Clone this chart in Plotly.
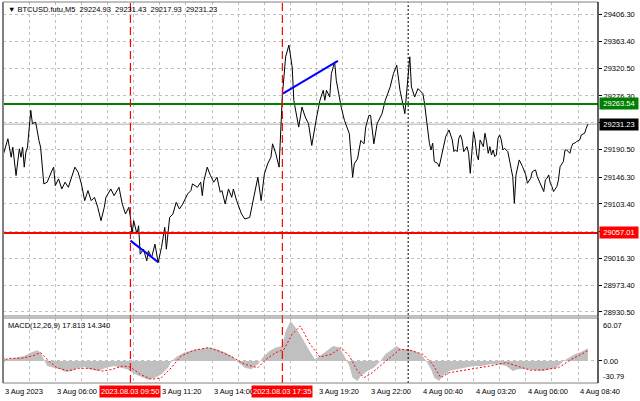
import plotly.graph_objects as go

# ---------------- data ----------------
close_times_3aug = ["03:20","03:35","03:45","03:50","04:00","04:10","04:15","04:20","04:25","04:30","04:35","04:45","04:50","05:00","05:10","05:15","05:25","05:35","05:50","05:55",
    "06:00","06:10","06:20","06:30","06:40","06:50","07:00","07:10","07:20","07:30","07:40","07:50","08:00","08:10","08:20","08:30","08:35","08:50","09:00","09:15",
    "09:25","09:35","09:45","09:50","09:55","10:00","10:10","10:15","10:20","10:30","10:40","10:45","10:55","11:05","11:15","11:25","11:35","11:40","11:50","12:00",
    "12:10","12:20","12:30","12:45","12:55","13:00","13:15","13:25","13:30","13:35","13:45","13:55","14:05","14:15","14:25","14:30","14:40","14:50","15:00","15:05",
    "15:15","15:30","15:40","15:55","16:10","16:20","16:30","16:40","16:50","17:00","17:05","17:15","17:25","17:30","17:35","17:45","17:55","18:05","18:10","18:25",
    "18:35","18:45","18:55","19:05","19:15","19:20","19:30","19:40","19:45","19:50","20:00","20:05","20:15","20:20","20:35","20:45","21:00","21:10","21:15","21:25",
    "21:35","21:45","21:50","22:00","22:05","22:15","22:25","22:40","22:50","23:05","23:15","23:25","23:35","23:50","23:55"]
close_prices_3aug = [29181.0,29207.8,29178.3,29194.4,29148.9,29191.7,29178.3,29194.4,29162.3,29186.3,29194.4,29253.3,29231.9,29234.5,29205.1,29194.4,29135.5,29138.2,29156.9,29162.3,
    29132.8,29143.5,29127.4,29138.2,29130.1,29146.2,29162.3,29154.2,29135.5,29108.7,29124.8,29108.7,29114.0,29098.0,29076.6,29098.0,29114.0,29127.4,29116.7,29130.1,
    29103.3,29087.3,29098.0,29081.9,29055.2,29076.6,29055.2,29068.5,29023.0,29031.0,29012.3,29028.4,29017.7,29039.1,29009.6,29033.7,29065.9,29031.0,29081.9,29087.3,
    29106.0,29095.3,29103.3,29119.4,29124.8,29135.5,29130.1,29138.2,29116.7,29140.8,29162.3,29148.9,29138.2,29146.2,29122.1,29124.8,29103.3,29127.4,29114.0,29127.4,
    29108.7,29087.3,29079.3,29081.9,29119.4,29146.2,29108.7,29151.5,29167.6,29178.3,29199.7,29183.7,29162.3,29210.4,29277.4,29339.0,29357.7,29322.9,29269.4,29226.5,
    29258.6,29242.6,29231.9,29197.1,29231.9,29242.6,29269.4,29285.4,29269.4,29285.4,29274.7,29312.2,29330.9,29301.5,29258.6,29237.2,29215.8,29146.2,29167.6,29175.6,
    29205.1,29199.7,29226.5,29245.3,29245.3,29199.7,29231.9,29247.9,29269.4,29290.8,29312.2,29325.6,29285.4,29247.9,29280.1]
close_times_4aug = ["00:05","00:10","00:20","00:30","00:45",
    "00:50","00:55","01:00","01:05","01:10","01:15","01:20","01:30","01:35","01:40","01:45","01:50","01:55","02:00","02:05",
    "02:15","02:20","02:25","02:30","02:35","02:40","02:45","02:50","03:00","03:05","03:10","03:15","03:20","03:25","03:30","03:35","03:40","03:50",
    "03:55","04:00","04:05","04:10","04:15","04:20","04:25","04:30","04:35","04:40","04:45","04:50","04:55",
    "05:05","05:10","05:15","05:20","05:25","05:30","05:40","05:50",
    "06:00","06:05","06:15","06:20","06:30","06:35","06:45","06:55",
    "07:00","07:05","07:10","07:15","07:20","07:25","07:35","07:40","07:45","07:55",
    "08:00","08:05","08:15","08:20","08:25","08:30","08:35","08:45","08:50",
    "09:00","09:05","09:10"]
close_prices_4aug = [29339.0,29290.8,29274.7,29288.1,29280.1,
    29264.6,29243.3,29229.9,29200.6,29189.9,29200.6,29171.2,29168.5,29163.2,29176.6,29184.5,29200.6,29211.3,29216.6,29221.9,
    29205.9,29187.2,29189.9,29187.2,29208.6,29213.9,29205.9,29187.2,29195.2,29184.5,29152.5,29192.6,29219.2,29205.9,29181.9,29173.9,29205.9,29195.2,
    29216.6,29203.2,29184.5,29195.2,29181.9,29189.9,29179.2,29181.9,29208.6,29213.9,29205.9,29189.9,29192.6,
    29187.2,29171.2,29160.5,29147.2,29104.5,29149.9,29173.9,29163.2,
    29149.9,29136.5,29144.5,29155.2,29157.9,29147.2,29133.9,29123.2,
    29141.9,29144.5,29149.9,29136.5,29131.2,29123.2,29131.2,29141.9,29163.2,29171.2,
    29189.9,29189.9,29184.5,29195.2,29200.6,29200.6,29203.2,29205.9,29213.9,
    29216.6,29224.6,29231.23]

macd_times_3aug = ["03:20","03:35","04:00","04:25","04:45","05:05","05:15","05:25","05:35","05:55","06:15","06:30","06:50","07:10","07:30","07:45","08:10","08:35","09:00","09:20",
    "09:40","10:05","10:30","10:45","11:05","11:25","11:45","11:55","12:10","12:35","13:00","13:25","13:50","14:15","14:40","15:05","15:20","15:40","16:00","16:20",
    "16:35","16:55","17:15","17:35","17:45","18:00","18:15","18:35","18:55","19:15","19:30","19:50","20:10","20:30","20:45","21:00","21:10","21:25","21:35","21:55",
    "22:15","22:35","22:50","23:10","23:25","23:40"]
macd_values_3aug = [4.7,2.3,4.7,7.0,11.7,15.0,11.7,2.3,-7.0,-9.4,-11.7,-15.0,-14.0,-9.4,-8.4,-11.7,-14.0,-9.4,-7.0,-9.4,
    -11.7,-18.7,-23.4,-26.6,-23.4,-18.7,-9.4,-1.0,5.6,11.7,15.0,16.4,18.7,16.4,11.7,5.6,-2.3,-9.4,-11.7,-4.7,
    4.7,14.0,18.7,21.0,42.0,56.0,46.8,32.7,16.4,2.3,7.0,14.0,21.0,18.7,7.0,-7.0,-23.4,-28.0,-21.0,-14.0,
    -9.4,0.0,9.4,16.4,21.0,16.4]
macd_times_4aug = ["00:00","00:20","00:40","00:55","01:10","01:20","01:35","01:45","02:05","02:30","02:55","03:20","03:45","04:10","04:35","05:00","05:20","05:35","06:00","06:25",
    "06:50","07:15","07:35","07:55","08:15","08:30","08:50","09:10"]
macd_values_4aug = [16.4,14.0,9.4,0.0,-11.7,-23.4,-28.0,-21.0,-14.0,-11.7,-9.4,-7.0,-7.0,-4.7,-4.7,-7.0,-14.0,-11.7,-11.7,-13.0,
    -14.0,-11.7,-9.4,0.0,5.6,9.4,13.0,17.813]

signal_times_3aug = ["03:20","03:35","04:15","04:50","05:15","05:40","06:05","06:40","07:10","07:45","08:25","08:55","09:25","09:50","10:20","10:55","11:25","11:55","12:25","13:05",
    "13:50","14:25","15:05","15:40","16:20","16:45","17:15","17:40","18:05","18:30","19:00","19:30","20:05","20:35","21:00","21:25","21:45","22:10","22:40","23:10","23:35"]
signal_values_3aug = [-2.3,3.7,3.7,7.0,11.7,0.0,-9.4,-14.0,-10.3,-10.3,-14.0,-11.7,-7.0,-8.4,-18.7,-25.7,-23.4,-9.4,7.0,15.0,
    18.7,13.0,4.7,-4.7,-9.4,2.3,11.7,16.4,37.4,49.0,23.4,5.6,9.4,18.7,7.0,-14.0,-23.4,-16.4,-4.7,7.0,16.4]
signal_times_4aug = ["00:05","00:45","01:15","01:40","02:05","03:10","04:10","05:00","05:35","06:15","06:50","07:40","08:20","09:10"]
signal_values_4aug = [15.0,9.4,-4.7,-23.4,-16.4,-11.7,-7.0,-2.3,-7.0,-13.0,-12.6,-9.4,2.3,14.340]

trend1_times = ["2023-08-03 09:50", "2023-08-03 11:15"]
trend1_prices = [29044.7, 29010.1]
trend2_times = ["2023-08-03 17:35", "2023-08-03 20:25"]
trend2_prices = [29279.6, 29332.4]

level_buy = 29263.54
level_sell = 29057.01
last_price = 29231.23
signal_lines = ["2023-08-03 09:50", "2023-08-03 17:35"]
signal_line_labels = ["2023.08.03 09:50", "2023.08.03 17:35"]
day_separator = "2023-08-04 00:00"

# grid levels; the two levels hidden behind the price boxes carry no text
price_ticks = [28930.50, 28973.40, 29016.30, 29059.80, 29103.40, 29146.30, 29190.50, 29233.40, 29276.30, 29320.50, 29363.40, 29406.30]
price_tick_text = ["28930.50", "28973.40", "29016.30", "", "29103.40", "29146.30", "29190.50", "", "29276.30", "29320.50", "29363.40", "29406.30"]
price_range = [28924.0, 29426.8]
macd_range = [-30.79, 60.07]

x_label_times = ["2023-08-03 03:20","2023-08-03 06:00","2023-08-03 11:20","2023-08-03 14:00",
                 "2023-08-03 19:20","2023-08-03 22:00","2023-08-04 00:40","2023-08-04 03:20","2023-08-04 06:00","2023-08-04 08:40"]
x_label_texts = ["3 Aug 2023","3 Aug 06:00","3 Aug 11:20","3 Aug 14:00",
                 "3 Aug 19:20","3 Aug 22:00","4 Aug 00:40","4 Aug 03:20","4 Aug 06:00","4 Aug 08:40"]
x_grid_times = ["2023-08-03 04:40","2023-08-03 06:00","2023-08-03 07:20","2023-08-03 08:40","2023-08-03 10:00","2023-08-03 11:20",
                "2023-08-03 12:40","2023-08-03 14:00","2023-08-03 15:20","2023-08-03 16:40","2023-08-03 18:00","2023-08-03 19:20",
                "2023-08-03 20:40","2023-08-03 22:00","2023-08-03 23:20","2023-08-04 00:40","2023-08-04 02:00","2023-08-04 03:20",
                "2023-08-04 04:40","2023-08-04 06:00","2023-08-04 07:20","2023-08-04 08:40"]
x_range = ["2023-08-03 03:20", "2023-08-04 09:41"]

title_text = "▼ BTCUSD.futu,M5  29224.93  29231.43  29217.93  29231.23"
macd_text = "MACD(12,26,9) 17.813 14.340"

# ---------------- build ----------------
def stamp(day, times):
    return [f"2023-08-0{day} {t}" for t in times]

assert len(close_times_4aug) == len(close_prices_4aug)
assert len(close_times_3aug) == len(close_prices_3aug)

close_x = stamp(3, close_times_3aug) + stamp(4, close_times_4aug)
close_y = close_prices_3aug + close_prices_4aug
macd_x = stamp(3, macd_times_3aug) + stamp(4, macd_times_4aug)
macd_y = macd_values_3aug + macd_values_4aug
sig_x = stamp(3, signal_times_3aug) + stamp(4, signal_times_4aug)
sig_y = signal_values_3aug + signal_values_4aug

FONT = "Liberation Sans, Arial, sans-serif"
FS = 7.5
GRID = "#c0c0c0"

fig = go.Figure()
fig.add_trace(go.Scatter(x=macd_x, y=macd_y, mode="lines", fill="tozeroy", fillcolor="#c0c0c0",
                         line=dict(width=0, color="#c0c0c0"), xaxis="x", yaxis="y2", hoverinfo="skip"))
fig.add_trace(go.Scatter(x=sig_x, y=sig_y, mode="lines", line=dict(color="#ff0000", width=1, dash="2px,2px"),
                         xaxis="x", yaxis="y2"))
fig.add_trace(go.Scatter(x=close_x, y=close_y, mode="lines", line=dict(color="black", width=1), xaxis="x", yaxis="y"))
fig.add_trace(go.Scatter(x=trend1_times, y=trend1_prices, mode="lines", line=dict(color="#0000ff", width=2), xaxis="x", yaxis="y"))
fig.add_trace(go.Scatter(x=trend2_times, y=trend2_prices, mode="lines", line=dict(color="#0000ff", width=2), xaxis="x", yaxis="y"))

main_bottom = 0.1759
macd_top = 0.1706

shapes = []
shapes.append(dict(type="line", xref="paper", x0=0, x1=1, yref="y", y0=last_price, y1=last_price,
                   line=dict(color="#c8c8c8", width=1.5), layer="below"))
shapes.append(dict(type="line", xref="paper", x0=0, x1=1, yref="y", y0=level_buy, y1=level_buy,
                   line=dict(color="#008000", width=2)))
shapes.append(dict(type="line", xref="paper", x0=0, x1=1, yref="y", y0=level_sell, y1=level_sell,
                   line=dict(color="#ff0000", width=2)))
for t in signal_lines:
    shapes.append(dict(type="line", xref="x", x0=t, x1=t, yref="paper", y0=0, y1=1,
                       line=dict(color="#ff0000", width=1.2, dash="8px,4px")))
shapes.append(dict(type="line", xref="x", x0=day_separator, x1=day_separator, yref="paper", y0=0, y1=1,
                   line=dict(color="black", width=1, dash="2px,2px")))
shapes.append(dict(type="rect", xref="paper", x0=0, x1=1, yref="paper", y0=main_bottom, y1=1,
                   line=dict(color="#808080", width=1)))
shapes.append(dict(type="rect", xref="paper", x0=0, x1=1, yref="paper", y0=0, y1=macd_top,
                   line=dict(color="#808080", width=1)))
shapes.append(dict(type="line", xref="paper", x0=0, x1=0, yref="paper", y0=0, y1=1,
                   line=dict(color="#808080", width=2)))
shapes.append(dict(type="line", xref="paper", x0=1, x1=1, yref="paper", y0=0, y1=1,
                   line=dict(color="black", width=1)))

ann = []
ann.append(dict(text=title_text, xref="paper", yref="paper", x=0, y=1, xanchor="left", yanchor="top",
                xshift=3, yshift=-1, showarrow=False, font=dict(family=FONT, size=FS, color="black")))
ann.append(dict(text=macd_text, xref="paper", yref="paper", x=0, y=macd_top, xanchor="left", yanchor="top",
                xshift=3, yshift=-1, showarrow=False, font=dict(family=FONT, size=FS, color="black")))
for t, s in zip(x_label_times, x_label_texts):
    ann.append(dict(text=s, xref="x", yref="paper", x=t, y=0, xanchor="left", yanchor="top", yshift=-2,
                    showarrow=False, font=dict(family=FONT, size=FS, color="black")))
for t, s in zip(signal_lines, signal_line_labels):
    ann.append(dict(text=s, xref="x", yref="paper", x=t, y=0, xanchor="center", yanchor="top", yshift=-2,
                    showarrow=False, bgcolor="#ff0000", borderpad=1, font=dict(family=FONT, size=FS, color="white")))
for v, c in [(level_buy, "#008000"), (last_price, "#000000"), (level_sell, "#ff0000")]:
    ann.append(dict(text=f"{v:.2f}", xref="paper", yref="y", x=1, y=v, xanchor="left", yanchor="middle", xshift=1,
                    showarrow=False, bgcolor=c, borderpad=1, width=36, font=dict(family=FONT, size=FS, color="white")))
ann.append(dict(text=f"{macd_range[1]:.2f}", xref="paper", yref="y2", x=1, y=macd_range[1], xanchor="left",
                yanchor="top", xshift=3, yshift=-1, showarrow=False, font=dict(family=FONT, size=FS, color="black")))
ann.append(dict(text=f"{macd_range[0]:.2f}", xref="paper", yref="y2", x=1, y=macd_range[0], xanchor="left",
                yanchor="bottom", xshift=3, yshift=0, showarrow=False, font=dict(family=FONT, size=FS, color="black")))

fig.update_layout(
    width=640, height=401,
    margin=dict(l=3, r=42, t=2, b=18),
    paper_bgcolor="white", plot_bgcolor="white",
    showlegend=False,
    font=dict(family=FONT, size=FS, color="black"),
    xaxis=dict(type="date", range=x_range, domain=[0, 1], anchor="y2",
               tickvals=x_grid_times, showticklabels=False, ticks="",
               showgrid=True, gridcolor=GRID, griddash="3px,3px", gridwidth=1,
               zeroline=False, showline=False),
    yaxis=dict(domain=[main_bottom, 1], anchor="x", side="right", range=price_range,
               tickvals=price_ticks, ticktext=price_tick_text,
               ticks="outside", ticklen=3, tickcolor="black",
               tickfont=dict(family=FONT, size=FS, color="black"),
               showgrid=True, gridcolor=GRID, griddash="3px,3px", gridwidth=1,
               zeroline=False, showline=False),
    yaxis2=dict(domain=[0, macd_top], anchor="x", side="right", range=macd_range,
                tickvals=[0], ticktext=["0.00"], ticks="outside", ticklen=3, tickcolor="black",
                tickfont=dict(family=FONT, size=FS, color="black"),
                showgrid=True, gridcolor=GRID, griddash="3px,3px", gridwidth=1,
                zeroline=False, showline=False),
    shapes=shapes,
    annotations=ann,
)

fig.write_html("out.html", config={"displayModeBar": False},
               post_script="document.body.style.margin='0px';")
